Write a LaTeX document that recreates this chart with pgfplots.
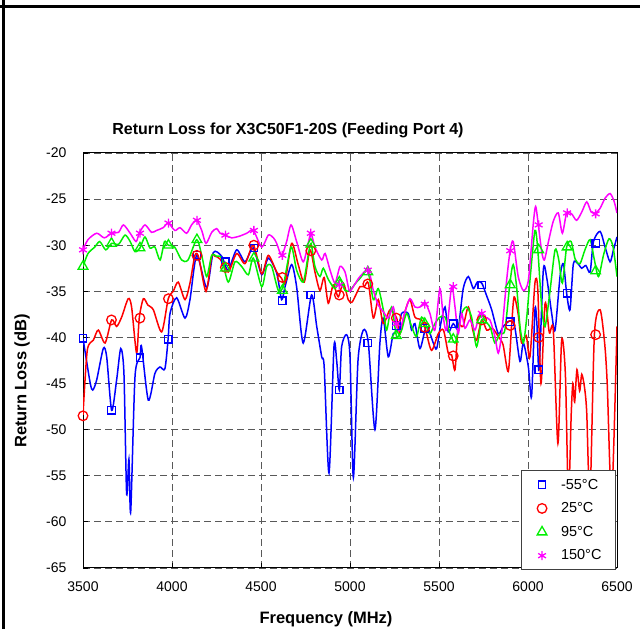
\documentclass[border=0pt]{standalone}
\usepackage{fontspec}
\setmainfont{Liberation Sans}
\usepackage{pgfplots}
\pgfplotsset{compat=1.18}
\definecolor{cblue}{RGB}{0,0,255}
\definecolor{cred}{RGB}{255,0,0}
\definecolor{cgreen}{RGB}{0,240,0}
\definecolor{cmag}{RGB}{255,0,255}
\pgfplotsset{mklegend/.style={legend image code/.code={\path[draw=none,fill=none] (0pt,-3pt) rectangle (26pt,3pt);
    \draw[##1,/tikz/only marks] plot coordinates {(9pt,0pt)};}}}
\begin{document}
\begin{tikzpicture}[x=1pt,y=1pt]
\useasboundingbox (0,0) rectangle (640,629);
\draw[line width=2.5pt] (3.5,0) -- (3.5,629);
\draw[line width=2.5pt] (0,622.5) -- (640,622.5);
\begin{axis}[
  at={(83pt,61pt)}, anchor=south west,
  scale only axis, width=534pt, height=415pt,
  xmin=3500, xmax=6500, ymin=-65, ymax=-20,
  xtick={3500,4000,4500,5000,5500,6000,6500},
  xticklabels={3500,4000,4500,5000,5500,6000,6500},
  ytick={-65,-60,-55,-50,-45,-40,-35,-30,-25,-20},
  yticklabels={-65,-60,-55,-50,-45,-40,-35,-30,-25,-20},
  tick pos=left, tick align=inside, major tick length=5pt,
  tick style={black, line width=0.8pt},
  tick label style={font=\fontsize{14}{16}\selectfont},
  xticklabel style={yshift=-10pt},
  yticklabel style={xshift=-13pt},
  axis line style={black, line width=1pt},
  grid=major,
  major grid style={black!65, line width=0.9pt, dash pattern=on 7pt off 4pt},
  legend style={at={(1,0)}, anchor=south east, xshift=-1pt, yshift=-2pt,
    draw=black!75, line width=1pt, fill=white,
    inner xsep=12pt, inner ysep=6pt, row sep=8pt,
    font=\fontsize{14.5}{17}\selectfont},
  legend cell align=left,
  every axis plot/.append style={smooth, tension=0.45},
]
% ---------- -55 C ----------
\addplot[cblue, line width=1.5pt, forget plot] coordinates {
(3500,-40.1) (3540,-44.9) (3555,-45.7) (3577,-44.6) (3614,-41.2) (3633,-42.1)
(3661,-47.9) (3689,-44.6) (3712,-41.2) (3730,-43.9) (3745,-56.9) (3758,-53.2)
(3768,-58.9) (3792,-44.3) (3820,-42.2) (3829,-41.0) (3867,-46.8) (3904,-43.9)
(3932,-43.2) (3960,-43.4) (3978,-40.2) (3989,-37.4) (4026,-35.7) (4073,-37.9)
(4101,-35.9) (4139,-31.1) (4195,-34.6) (4232,-30.8) (4279,-31.2) (4315,-32.7)
(4363,-30.5) (4410,-31.8) (4457,-30.3) (4504,-33.2) (4541,-31.4) (4588,-33.0)
(4616,-35.9) (4635,-34.5) (4672,-32.1) (4700,-34.5) (4737,-40.6) (4784,-35.4)
(4813,-38.8) (4841,-42.1) (4855,-43.2) (4882,-54.7) (4910,-41.0) (4925,-42.5)
(4940,-45.7) (4953,-41.0) (4981,-39.7) (5000,-42.1) (5019,-55.2) (5045,-42.5)
(5075,-39.2) (5103,-40.6) (5140,-50.0) (5168,-40.6) (5187,-37.9) (5215,-42.1)
(5243,-39.6) (5271,-39.2) (5290,-37.4) (5327,-37.4) (5346,-39.2) (5365,-38.5)
(5393,-41.2) (5430,-38.8) (5468,-40.6) (5487,-41.2) (5510,-38.5) (5534,-36.7)
(5552,-39.4) (5580,-38.5) (5608,-39.0) (5636,-34.7) (5665,-33.4) (5693,-34.7)
(5715,-34.0) (5740,-34.1) (5768,-35.5) (5796,-37.0) (5833,-39.6) (5861,-38.8)
(5899,-38.2) (5925,-38.8) (5955,-42.6) (5974,-40.6) (6002,-43.2) (6020,-46.4)
(6039,-37.0) (6050,-38.5) (6062,-43.5) (6086,-32.7) (6105,-33.5) (6133,-37.4)
(6152,-39.2) (6180,-33.4) (6199,-32.0) (6217,-35.2) (6236,-37.0) (6255,-32.0)
(6280,-32.0) (6302,-32.5) (6325,-32.2) (6349,-32.9) (6368,-29.6) (6405,-28.5)
(6433,-30.2) (6461,-31.8) (6480,-30.5) (6500,-29.1)};
\addplot[cblue, only marks, mark=square, mark size=3.7pt, line width=1.3pt, mklegend] coordinates {
(3500,-40.1) (3660,-47.9) (3820,-42.2) (3980,-40.2) (4140,-31.1) (4300,-31.8)
(4460,-30.3) (4620,-36.0) (4780,-35.4) (4940,-45.7) (5100,-40.6) (5260,-38.7)
(5420,-39.0) (5580,-38.5) (5740,-34.3) (5900,-38.3) (6060,-43.5) (6220,-35.2)
(6380,-29.8)};
\addlegendentry{-55°C}
% ---------- 25 C ----------
\addplot[cred, line width=1.5pt, forget plot] coordinates {
(3500,-48.4) (3524,-41.4) (3558,-40.3) (3586,-39.2) (3624,-40.6) (3661,-38.1)
(3689,-38.8) (3717,-37.8) (3754,-35.8) (3773,-36.7) (3801,-41.7) (3816,-37.9)
(3839,-35.8) (3865,-36.5) (3895,-37.0) (3942,-39.4) (3979,-35.8) (4007,-35.0)
(4035,-34.0) (4073,-35.9) (4101,-34.1) (4129,-31.1) (4150,-31.3) (4191,-35.0)
(4223,-31.2) (4242,-31.2) (4270,-31.5) (4316,-32.9) (4363,-30.9) (4410,-32.0)
(4457,-30.0) (4504,-33.1) (4541,-31.1) (4588,-32.9) (4616,-33.6) (4635,-34.1)
(4672,-29.8) (4709,-32.1) (4743,-34.0) (4775,-30.5) (4803,-32.9) (4831,-34.9)
(4855,-33.5) (4878,-36.3) (4906,-34.3) (4934,-35.6) (4962,-34.1) (4990,-35.9)
(5010,-36.2) (5030,-35.5) (5056,-34.5) (5080,-34.5) (5103,-34.1) (5131,-37.9)
(5159,-35.9) (5187,-38.5) (5225,-37.0) (5262,-37.9) (5281,-39.6) (5309,-37.2)
(5337,-35.9) (5365,-37.8) (5402,-38.1) (5425,-39.2) (5458,-41.4) (5496,-39.6)
(5525,-39.2) (5552,-41.7) (5571,-41.9) (5590,-43.5) (5608,-38.8) (5635,-38.8)
(5665,-36.7) (5690,-39.2) (5711,-40.3) (5740,-38.1) (5768,-39.2) (5800,-39.0)
(5833,-39.9) (5860,-40.8) (5889,-43.7) (5908,-38.7) (5922,-35.6) (5945,-37.5)
(5964,-40.6) (5990,-39.8) (6011,-42.1) (6039,-34.1) (6055,-34.8) (6073,-45.0)
(6096,-36.3) (6120,-39.5) (6142,-39.2) (6168,-51.5) (6189,-40.3) (6210,-44.0)
(6227,-57.5) (6243,-48.2) (6252,-45.0) (6262,-47.0) (6275,-43.5) (6290,-45.8)
(6302,-44.0) (6318,-45.5) (6330,-48.2) (6348,-57.5) (6373,-39.7) (6405,-37.0)
(6430,-40.5) (6445,-45.0) (6470,-57.5) (6500,-38.8)};
\addplot[cred, only marks, mark=o, mark size=4.8pt, line width=1.3pt, mklegend] coordinates {
(3500,-48.5) (3660,-38.1) (3820,-37.9) (3980,-35.8) (4140,-31.1) (4300,-32.4)
(4460,-30.0) (4620,-33.5) (4780,-30.6) (4940,-35.4) (5100,-34.2) (5260,-37.9)
(5420,-38.9) (5580,-42.0) (5740,-38.1) (5900,-38.7) (6060,-40.0) (6220,-57.0)
(6380,-39.7)};
\addlegendentry{25°C}
% ---------- 95 C ----------
\addplot[cgreen, line width=1.5pt, forget plot] coordinates {
(3500,-32.3) (3528,-30.9) (3566,-30.2) (3594,-29.6) (3628,-30.5) (3661,-29.8)
(3700,-29.9) (3736,-28.9) (3765,-29.6) (3792,-30.7) (3820,-30.3) (3848,-29.1)
(3876,-30.3) (3904,-30.2) (3933,-31.6) (3958,-29.6) (3979,-30.0) (4015,-30.2)
(4054,-31.6) (4090,-31.6) (4139,-29.4) (4167,-31.1) (4195,-33.4) (4223,-31.1)
(4251,-31.2) (4279,-31.4) (4316,-34.0) (4354,-31.8) (4391,-32.3) (4429,-33.2)
(4457,-31.4) (4504,-34.5) (4532,-32.3) (4560,-32.3) (4597,-34.9) (4625,-34.4)
(4669,-30.2) (4700,-32.7) (4737,-34.0) (4765,-31.1) (4781,-29.8) (4803,-32.3)
(4831,-33.4) (4850,-32.5) (4878,-33.7) (4916,-34.7) (4944,-33.7) (4972,-34.9)
(5000,-34.9) (5028,-34.2) (5056,-33.6) (5100,-32.8) (5131,-35.9) (5159,-34.7)
(5187,-37.0) (5206,-39.2) (5234,-36.7) (5262,-39.9) (5290,-39.2) (5318,-37.4)
(5346,-38.8) (5374,-39.9) (5402,-37.8) (5430,-38.8) (5449,-39.6) (5477,-38.5)
(5505,-37.8) (5534,-37.8) (5562,-39.6) (5590,-40.6) (5608,-39.2) (5627,-37.4)
(5655,-36.7) (5683,-37.8) (5711,-41.0) (5740,-38.1) (5768,-38.4) (5790,-39.0)
(5814,-40.6) (5842,-39.6) (5870,-39.2) (5899,-34.0) (5917,-32.1) (5936,-34.5)
(5955,-38.8) (5974,-40.6) (5992,-38.0) (6011,-33.8) (6039,-28.4) (6055,-30.5)
(6077,-36.7) (6096,-38.8) (6124,-34.9) (6152,-30.5) (6172,-31.5) (6193,-34.1)
(6217,-30.2) (6242,-29.6) (6265,-31.5) (6292,-32.0) (6320,-30.5) (6349,-29.4)
(6372,-31.5) (6396,-33.4) (6425,-31.0) (6455,-29.3) (6478,-30.2) (6500,-33.4)};
\addplot[cgreen, only marks, mark=triangle, mark size=5.6pt, line width=1.3pt, mklegend] coordinates {
(3500,-32.3) (3660,-29.8) (3820,-30.3) (3980,-30.0) (4140,-29.4) (4300,-32.5)
(4460,-31.4) (4620,-34.9) (4780,-29.9) (4940,-34.0) (5100,-32.9) (5260,-39.8)
(5420,-38.5) (5580,-40.2) (5740,-38.1) (5900,-34.3) (6060,-30.5) (6220,-30.2)
(6380,-32.8)};
\addlegendentry{95°C}
% ---------- 150 C ----------
\addplot[cmag, line width=1.5pt, forget plot] coordinates {
(3500,-30.5) (3528,-29.4) (3577,-28.7) (3620,-29.2) (3661,-28.7) (3700,-28.6)
(3727,-27.8) (3765,-28.7) (3798,-29.6) (3816,-28.7) (3848,-27.8) (3885,-28.6)
(3913,-28.4) (3950,-28.1) (3979,-27.6) (4016,-28.4) (4045,-28.1) (4082,-28.7)
(4110,-27.8) (4139,-27.3) (4167,-28.4) (4191,-29.8) (4223,-28.6) (4251,-28.2)
(4270,-28.7) (4298,-28.9) (4335,-29.2) (4382,-29.0) (4420,-28.7) (4457,-28.4)
(4504,-30.2) (4541,-28.9) (4570,-29.2) (4588,-29.8) (4616,-31.1) (4644,-29.6)
(4669,-27.8) (4700,-29.6) (4737,-31.8) (4765,-29.8) (4781,-28.7) (4803,-30.2)
(4841,-31.6) (4860,-30.9) (4888,-32.7) (4916,-34.1) (4944,-32.3) (4972,-32.9)
(4990,-34.5) (5000,-35.0) (5028,-34.2) (5056,-33.4) (5103,-32.7) (5131,-34.9)
(5159,-36.5) (5187,-37.2) (5215,-37.9) (5243,-36.7) (5262,-38.8) (5281,-39.2)
(5309,-37.2) (5337,-35.8) (5365,-36.7) (5393,-36.7) (5421,-36.2) (5449,-37.4)
(5477,-39.2) (5505,-34.7) (5524,-37.8) (5543,-39.2) (5571,-34.5) (5590,-36.7)
(5608,-39.6) (5627,-37.4) (5646,-39.0) (5674,-38.1) (5702,-39.2) (5730,-37.4)
(5758,-37.8) (5786,-38.1) (5814,-39.9) (5833,-41.7) (5852,-39.6) (5880,-33.8)
(5899,-30.7) (5917,-29.6) (5945,-33.4) (5974,-34.9) (6002,-33.8) (6030,-27.6)
(6043,-25.8) (6058,-27.8) (6077,-30.7) (6092,-31.6) (6115,-29.6) (6142,-27.4)
(6170,-26.5) (6193,-28.7) (6217,-26.5) (6245,-26.6) (6273,-27.3) (6302,-26.4)
(6330,-25.3) (6355,-26.4) (6380,-26.5) (6405,-26.0) (6433,-24.9) (6461,-24.4)
(6483,-25.2) (6500,-26.5)};
\addplot[cmag, only marks, mark=asterisk, mark size=4.5pt, line width=1.3pt, mklegend] coordinates {
(3500,-30.5) (3660,-28.7) (3820,-28.7) (3980,-27.6) (4140,-27.3) (4300,-28.9)
(4460,-28.4) (4620,-31.1) (4780,-28.7) (4940,-34.3) (5100,-32.7) (5260,-38.5)
(5420,-36.4) (5580,-34.5) (5740,-37.4) (5900,-30.6) (6060,-27.8) (6220,-26.5)
(6380,-26.6)};
\addlegendentry{150°C}
\end{axis}
\node[font=\fontsize{16}{19}\selectfont\bfseries] at (288,499) {Return Loss for X3C50F1-20S (Feeding Port 4)};
\node[font=\fontsize{16.5}{19}\selectfont\bfseries] at (326,10) {Frequency (MHz)};
\node[font=\fontsize{16.5}{19}\selectfont\bfseries, rotate=90] at (22,248) {Return Loss (dB)};
\end{tikzpicture}
\end{document}
